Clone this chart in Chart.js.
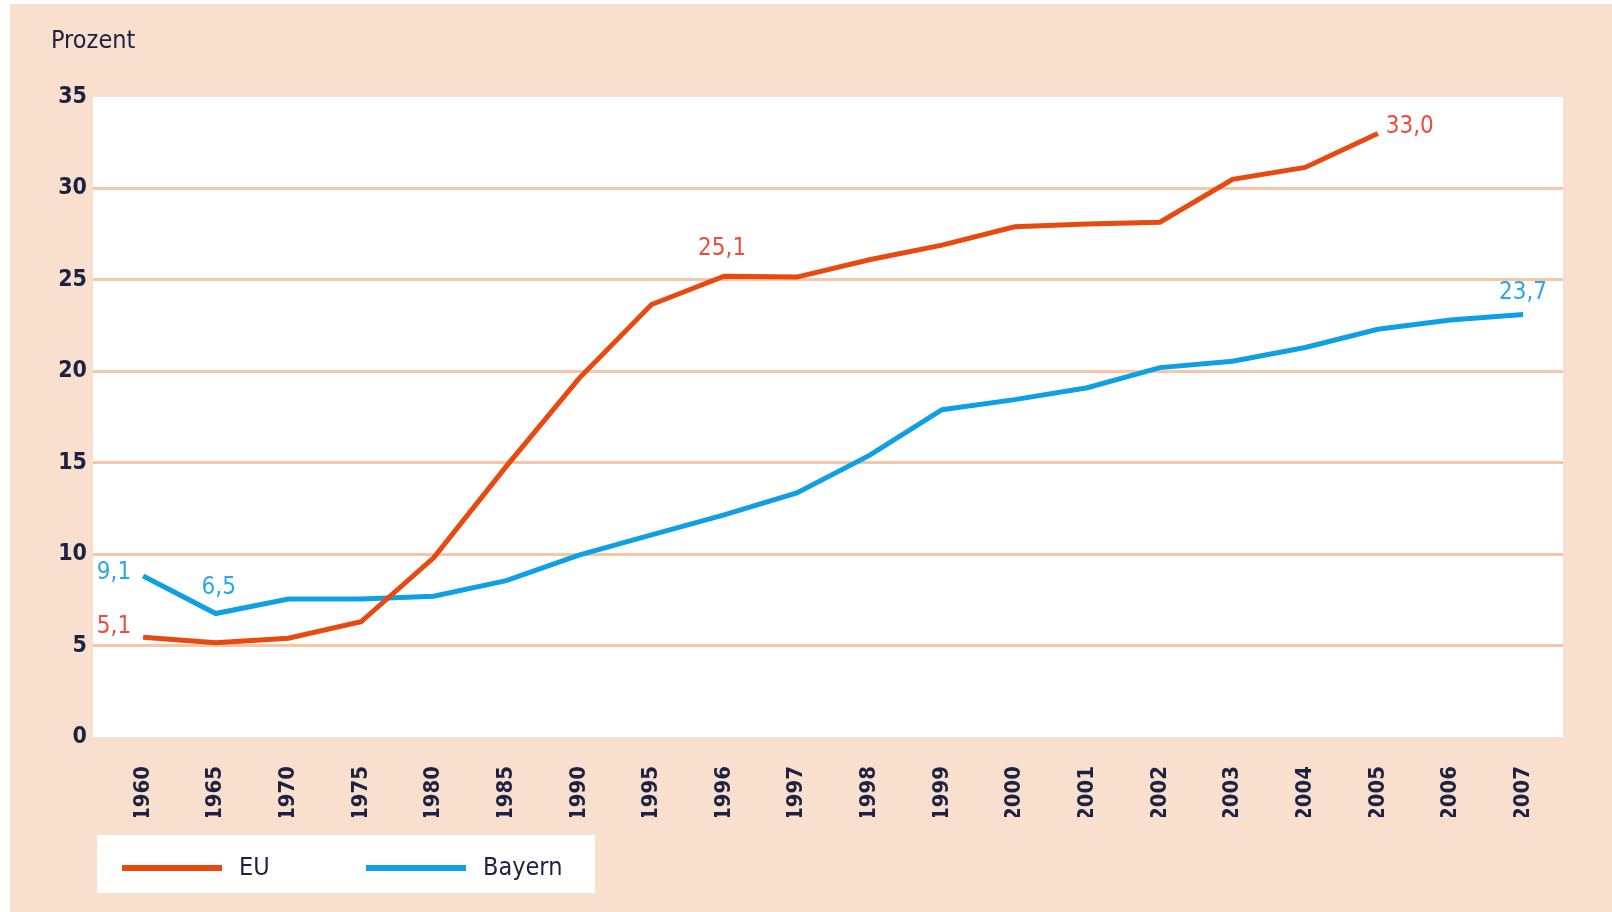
<!DOCTYPE html>
<html>
<head>
<meta charset="utf-8">
<script src="https://cdn.jsdelivr.net/npm/chart.js@4.4.1/dist/chart.umd.min.js"></script>
<style>
  html, body { margin: 0; background: #ffffff; }
  #wrap { position: absolute; left: 10px; top: 4px; width: 1602px; height: 908px; background: #f9dfcd; }
</style>
</head>
<body>
<div id="wrap"><canvas id="myChart" width="1602" height="908"></canvas></div>
<script>
// values (Prozent)
const years = ["1960","1965","1970","1975","1980","1985","1990","1995","1996","1997","1998","1999","2000","2001","2002","2003","2004","2005","2006","2007"];
const euValues = [5.45, 5.15, 5.4, 6.3, 9.8, 14.8, 19.6, 23.65, 25.2, 25.15, 26.1, 26.9, 27.9, 28.05, 28.15, 30.5, 31.15, 33.0, null, null];
const bayernValues = [8.8, 6.75, 7.55, 7.55, 7.7, 8.55, 9.95, 11.05, 12.15, 13.35, 15.4, 17.9, 18.45, 19.1, 20.2, 20.55, 21.3, 22.3, 22.8, 23.1];
const yTicks = [0, 5, 10, 15, 20, 25, 30, 35];
const seriesNames = ["EU", "Bayern"];
const unitLabel = "Prozent";
// printed value labels, by point index
const euLabels = {0: "5,1", 8: "25,1", 17: "33,0"};
const bayernLabels = {0: "9,1", 1: "6,5", 19: "23,7"};

const lineColors = ["#e8490f", "#0ea0e2"];
const labelColors = ["#ef4c3c", "#2aa6e9"];
const textColor = "#1d2242";
const gridColor = "#f6c6a7";
const fontFamily = "'Liberation Sans Narrow', 'DejaVu Sans Condensed', sans-serif";

const toPoints = vals => vals.map((v, i) => ({x: i, y: v})).filter(p => p.y !== null);

// where each printed label sits relative to its point: [align, dx, dy]
const labelPlace = {
  "0-0": ["right", -12, -11],
  "0-8": ["center", -2, -27],
  "0-17": ["left", 8, -7],
  "1-0": ["right", -12, -3],
  "1-1": ["center", 3, -26],
  "1-19": ["center", 0, -22]
};

const chartDecor = {
  id: "chartDecor",
  beforeDraw(chart) {
    const {ctx, chartArea: a} = chart;
    ctx.save();
    ctx.fillStyle = "#ffffff";
    ctx.fillRect(a.left, a.top, a.right - a.left, a.bottom - a.top);
    ctx.restore();
  },
  afterDatasetsDraw(chart) {
    const ctx = chart.ctx;
    ctx.save();
    ctx.font = "24px " + fontFamily;
    ctx.textBaseline = "middle";
    [euLabels, bayernLabels].forEach((lbls, d) => {
      const meta = chart.getDatasetMeta(d);
      Object.keys(lbls).forEach(i => {
        const pt = meta.data[i];
        const p = labelPlace[d + "-" + i];
        ctx.fillStyle = labelColors[d];
        ctx.textAlign = p[0];
        ctx.fillText(lbls[i], pt.x + p[1], pt.y + p[2]);
      });
    });
    ctx.restore();
  },
  afterDraw(chart) {
    const ctx = chart.ctx;
    ctx.save();
    ctx.font = "25px " + fontFamily;
    ctx.textBaseline = "middle";
    ctx.textAlign = "left";
    ctx.fillStyle = textColor;
    ctx.fillText(unitLabel, 41, 37);

    // legend
    ctx.fillStyle = "#ffffff";
    ctx.fillRect(87, 831, 498, 58);
    const starts = [112, 356];
    chart.data.datasets.forEach((ds, i) => {
      ctx.fillStyle = ds.borderColor;
      ctx.fillRect(starts[i], 861, 100, 6);
      ctx.fillStyle = textColor;
      ctx.fillText(ds.label, starts[i] + 117, 864);
    });
    ctx.restore();
  }
};

new Chart("myChart", {
  type: "line",
  data: {
    datasets: [
      {label: seriesNames[0], data: toPoints(euValues), borderColor: lineColors[0], backgroundColor: lineColors[0], borderWidth: 5, pointRadius: 0, tension: 0, fill: false},
      {label: seriesNames[1], data: toPoints(bayernValues), borderColor: lineColors[1], backgroundColor: lineColors[1], borderWidth: 5, pointRadius: 0, tension: 0, fill: false}
    ]
  },
  options: {
    responsive: false,
    animation: false,
    layout: {padding: {top: 93, right: 49, bottom: 95, left: 0}},
    plugins: {legend: {display: false}, tooltip: {enabled: false}},
    scales: {
      x: {
        type: "linear",
        min: -0.69,
        max: 19.55,
        afterBuildTicks: s => { s.ticks = years.map((_, i) => ({value: i})); },
        afterFit: s => { s.height = 80; },
        ticks: {
          callback: v => years[v],
          autoSkip: true,
          minRotation: 90,
          maxRotation: 90,
          padding: 21,
          color: textColor,
          font: {family: fontFamily, size: 22, weight: "bold"}
        },
        grid: {display: false},
        border: {display: false}
      },
      y: {
        min: 0,
        max: 35,
        afterBuildTicks: s => { s.ticks = yTicks.map(v => ({value: v})); },
        afterFit: s => { s.width = 83; },
        ticks: {
          padding: 6,
          color: textColor,
          font: {family: fontFamily, size: 23, weight: "bold"}
        },
        grid: {
          color: c => (c.tick.value > 0 && c.tick.value < 35) ? gridColor : "rgba(0,0,0,0)",
          lineWidth: 3,
          drawTicks: false
        },
        border: {display: false}
      }
    }
  },
  plugins: [chartDecor]
});
</script>
</body>
</html>
